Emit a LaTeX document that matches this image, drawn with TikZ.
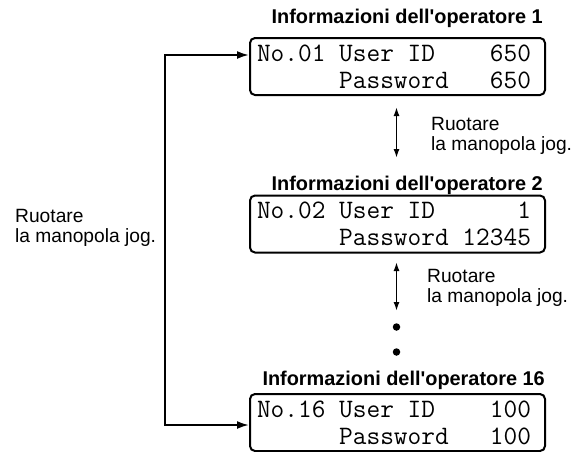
\documentclass[tikz,border=0pt]{standalone}
\usepackage{fontspec}
\setmainfont{Liberation Sans}
\usetikzlibrary{arrows.meta}
\newcommand{\lsp}{\hphantom{0}}
\begin{document}
\begin{tikzpicture}[x=1pt,y=-1pt,
  lcd/.style={draw, line width=2pt, rounded corners=5pt, minimum width=295pt, minimum height=57pt,
    inner sep=0pt, text width=281pt, align=left, font=\ttfamily\fontsize{26.6}{27}\selectfont},
  ttl/.style={anchor=base east, inner sep=0pt, font=\bfseries\fontsize{19.9}{20}\selectfont},
  lbl/.style={anchor=base west, inner sep=0pt, align=left, font=\fontsize{19.2}{19.5}\selectfont},
  big/.style={line width=2pt, {Latex[length=12pt,width=8pt]}-{Latex[length=12pt,width=8pt]}},
  small/.style={line width=1.6pt, {Latex[length=9pt,width=6pt]}-{Latex[length=9pt,width=6pt]}},
  dot/.style={circle, fill, inner sep=0pt, minimum size=7.5pt}]
\useasboundingbox (0,0) rectangle (583,451);

\node[lcd] (b1) at (397.5,66.5) {No.01\lsp User\lsp ID\lsp\lsp\lsp\lsp 650\\\lsp\lsp\lsp\lsp\lsp\lsp Password\lsp\lsp\lsp 650};
\node[lcd] (b2) at (397.5,224) {No.02\lsp User\lsp ID\lsp\lsp\lsp\lsp\lsp\lsp 1\\\lsp\lsp\lsp\lsp\lsp\lsp Password\lsp 12345};
\node[lcd] (b3) at (397.5,422.5) {No.16\lsp User\lsp ID\lsp\lsp\lsp\lsp 100\\\lsp\lsp\lsp\lsp\lsp\lsp Password\lsp\lsp\lsp 100};

\node[ttl] (t1) at (543,23) {Informazioni dell\textquotesingle operatore 1};
\node[ttl] (t2) at (543,190) {Informazioni dell\textquotesingle operatore 2};
\node[ttl] (t3) at (545,385) {Informazioni dell\textquotesingle operatore 16};

\node[lbl] (l0) at (15,242) {Ruotare\\la manopola jog.};
\node[lbl] (l1) at (431,150) {Ruotare\\la manopola jog.};
\node[lbl] (l2) at (427,302) {Ruotare\\la manopola jog.};

\coordinate (lt) at (165,55);
\coordinate (lb) at (165,425);
\draw[big] (b1.west |- lt) -- (lt) -- (lb) -- (b3.west |- lb);

\coordinate (a1t) at (396.5,107);
\coordinate (a1b) at (396.5,158);
\coordinate (a2t) at (396.5,262);
\coordinate (a2b) at (396.5,311);
\draw[small] (a1t) -- (a1b);
\draw[small] (a2t) -- (a2b);

\node[dot] (d1) at (396.5,327) {};
\node[dot] (d2) at (396.5,352) {};
\end{tikzpicture}
\end{document}
